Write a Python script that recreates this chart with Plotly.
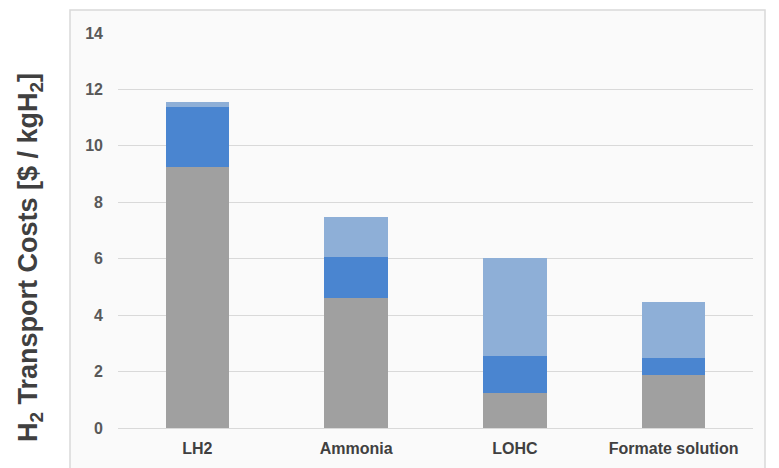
import plotly.graph_objects as go

# Hydrogen carriers on the x axis
carriers = ["LH2", "Ammonia", "LOHC", "Formate solution"]

# Stacked cost components in $ / kgH2 (bottom to top)
cost_base = [9.26, 4.62, 1.23, 1.88]
cost_middle = [2.10, 1.43, 1.32, 0.59]
cost_top = [0.19, 1.44, 3.46, 2.01]

y_ticks = [0, 2, 4, 6, 8, 10, 12, 14]

GRAY = "#a0a0a0"
BLUE = "#4a85d0"
LIGHT_BLUE = "#8eafd7"

fig = go.Figure()
for name, vals, color in [
    ("base", cost_base, GRAY),
    ("middle", cost_middle, BLUE),
    ("top", cost_top, LIGHT_BLUE),
]:
    fig.add_trace(go.Bar(x=carriers, y=vals, name=name,
                         marker=dict(color=color, line=dict(width=0)),
                         showlegend=False, hoverinfo="y"))

W, H = 779, 468
ML, MR, MT, MB = 118, 26, 33, 40
pw, ph = W - ML - MR, H - MT - MB

def px_to_paper_x(px):
    return (px - ML) / pw

def px_to_paper_y(py):
    return (H - MB - py) / ph

fig.update_layout(
    width=W, height=H,
    margin=dict(l=ML, r=MR, t=MT, b=MB),
    barmode="stack",
    bargap=0.6,
    paper_bgcolor="white",
    plot_bgcolor="rgba(0,0,0,0)",
    font=dict(family="Liberation Sans", color="#595959"),
    shapes=[dict(type="rect", xref="paper", yref="paper", layer="below",
                 x0=px_to_paper_x(70), x1=px_to_paper_x(765),
                 y0=px_to_paper_y(475), y1=px_to_paper_y(10),
                 fillcolor="#fafafa", line=dict(color="#d9d9d9", width=1.5))],
    annotations=[dict(
        text="<b>H<sub>2</sub> Transport Costs [$ / kgH<sub>2</sub>]</b>",
        xref="paper", yref="paper",
        x=px_to_paper_x(30), y=px_to_paper_y(258),
        xanchor="center", yanchor="middle", textangle=-90, showarrow=False,
        font=dict(family="Liberation Sans", size=27, color="#404040"))],
)

fig.update_yaxes(range=[0, 14], tickvals=y_ticks, showgrid=True,
                 gridcolor="#d9d9d9", gridwidth=1, zeroline=False,
                 showline=False, ticks="", ticklabelstandoff=14,
                 tickfont=dict(size=16, color="#595959",
                               family="Liberation Sans", weight="bold"))
fig.update_xaxes(showline=True, linecolor="#d9d9d9", linewidth=1,
                 ticks="", ticklabelstandoff=6,
                 tickfont=dict(size=16, color="#404040",
                               family="Liberation Sans", weight="bold"))

fig.write_html("out.html")
